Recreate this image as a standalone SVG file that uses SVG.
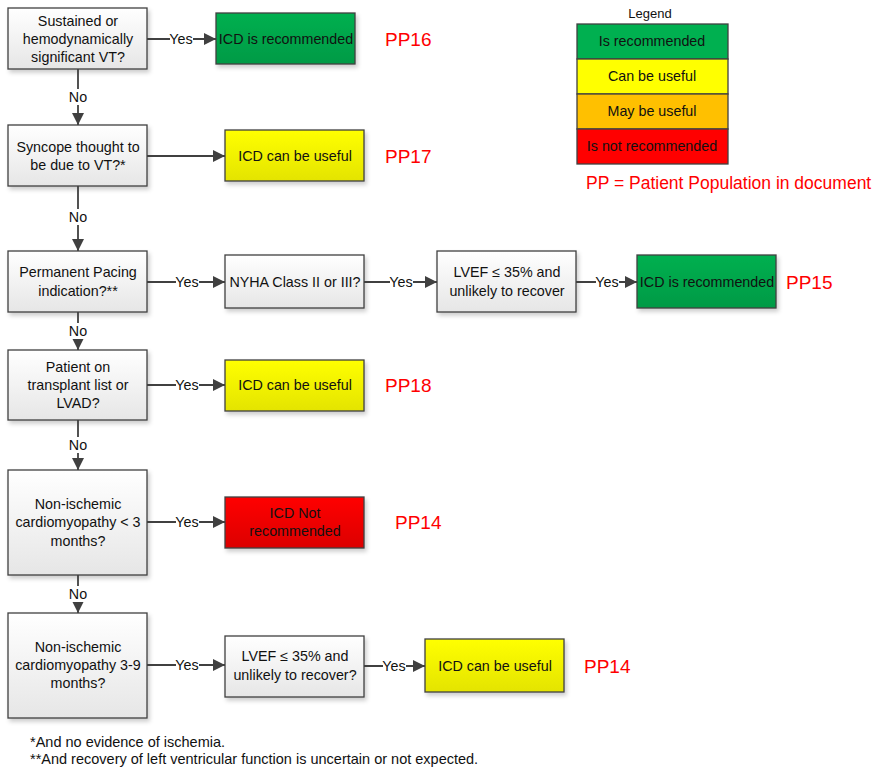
<svg xmlns="http://www.w3.org/2000/svg" width="873" height="768" viewBox="0 0 873 768">
<defs>
<linearGradient id="gGray" x1="0" y1="0" x2="0" y2="1"><stop offset="0" stop-color="#FFFFFF"/><stop offset="1" stop-color="#E6E6E6"/></linearGradient>
<linearGradient id="gGreen" x1="0" y1="0" x2="0" y2="1"><stop offset="0" stop-color="#00B050"/><stop offset="1" stop-color="#009A45"/></linearGradient>
<linearGradient id="gYellow" x1="0" y1="0" x2="0" y2="1"><stop offset="0" stop-color="#FFFF00"/><stop offset="1" stop-color="#E4E400"/></linearGradient>
<linearGradient id="gRed" x1="0" y1="0" x2="0" y2="1"><stop offset="0" stop-color="#FF0000"/><stop offset="1" stop-color="#DC0000"/></linearGradient>
<filter id="sh" x="-10%" y="-10%" width="130%" height="140%"><feDropShadow dx="2" dy="3" stdDeviation="2" flood-color="#000" flood-opacity="0.2"/></filter>
<marker id="arr" viewBox="0 0 10 10" refX="10" refY="5" markerWidth="12" markerHeight="12" markerUnits="userSpaceOnUse" orient="auto"><path d="M0,0 L10,5 L0,10 Z" fill="#404040"/></marker>
</defs>
<style>
.box{stroke:#404040;stroke-width:1.3;filter:url(#sh)}
.q{fill:url(#gGray)}
.gr{fill:url(#gGreen)}
.ye{fill:url(#gYellow)}
.rd{fill:url(#gRed)}
text{font-family:"Liberation Sans",Arial,sans-serif;font-size:14.3px;fill:#111;text-anchor:middle}
.pp{font-size:19px;fill:#FF0000;text-anchor:start}
.note{text-anchor:start;font-size:14.5px}
.c line{stroke:#404040;stroke-width:1.8;fill:none}
.c .a{marker-end:url(#arr)}
.lbl{fill:#FFFFFF}
</style>

<g id="n1"><rect class="box q" x="8" y="8" width="139" height="61"/><text x="78" y="26">Sustained or</text><text x="78" y="44">hemodynamically</text><text x="78" y="62">significant VT?</text></g>
<g id="r1"><rect class="box gr" x="216" y="13" width="139" height="51"/><text x="286" y="44">ICD is recommended</text></g>
<text class="pp" x="385" y="46">PP16</text>

<g id="n2"><rect class="box q" x="8" y="125" width="139" height="61"/><text x="78" y="152">Syncope thought to</text><text x="78" y="170">be due to VT?*</text></g>
<g id="r2"><rect class="box ye" x="225" y="130" width="139" height="51"/><text x="295" y="161">ICD can be useful</text></g>
<text class="pp" x="385" y="163">PP17</text>

<g id="n3"><rect class="box q" x="8" y="251" width="139" height="61"/><text x="78" y="277">Permanent Pacing</text><text x="78" y="296">indication?**</text></g>
<g id="n3b"><rect class="box q" x="225" y="255" width="139" height="53"/><text x="295" y="287">NYHA Class II or III?</text></g>
<g id="n3c"><rect class="box q" x="437" y="251" width="139" height="61"/><text x="507" y="277">LVEF ≤ 35% and</text><text x="507" y="296">unlikely to recover</text></g>
<g id="r3"><rect class="box gr" x="637" y="255" width="139" height="53"/><text x="707" y="287">ICD is recommended</text></g>
<text class="pp" x="786" y="289">PP15</text>

<g id="n4"><rect class="box q" x="8" y="350" width="139" height="70"/><text x="78" y="372">Patient on</text><text x="78" y="390">transplant list or</text><text x="78" y="408">LVAD?</text></g>
<g id="r4"><rect class="box ye" x="225" y="360" width="139" height="51"/><text x="295" y="390">ICD can be useful</text></g>
<text class="pp" x="385" y="392">PP18</text>

<g id="n5"><rect class="box q" x="8" y="470" width="139" height="105"/><text x="78" y="509">Non-ischemic</text><text x="78" y="527">cardiomyopathy &lt; 3</text><text x="78" y="546">months?</text></g>
<g id="r5"><rect class="box rd" x="225" y="497" width="139" height="51"/><text x="295" y="518">ICD Not</text><text x="295" y="536">recommended</text></g>
<text class="pp" x="395" y="529">PP14</text>

<g id="n6"><rect class="box q" x="8" y="613" width="139" height="105"/><text x="78" y="652">Non-ischemic</text><text x="78" y="670">cardiomyopathy 3-9</text><text x="78" y="688">months?</text></g>
<g id="n6b"><rect class="box q" x="225" y="636" width="139" height="61"/><text x="295" y="661">LVEF ≤ 35% and</text><text x="295" y="680">unlikely to recover?</text></g>
<g id="r6"><rect class="box ye" x="425" y="639" width="139" height="53"/><text x="495" y="671">ICD can be useful</text></g>
<text class="pp" x="584" y="673">PP14</text>

<g id="legend">
<text x="650" y="18" style="font-size:13px">Legend</text>
<rect x="577" y="24" width="151" height="35" fill="#00B050" stroke="#404040" stroke-width="1.3"/><text x="652" y="46">Is recommended</text>
<rect x="577" y="59" width="151" height="35" fill="#FFFF00" stroke="#404040" stroke-width="1.3"/><text x="652" y="81">Can be useful</text>
<rect x="577" y="94" width="151" height="35" fill="#FFC000" stroke="#404040" stroke-width="1.3"/><text x="652" y="116">May be useful</text>
<rect x="577" y="129" width="151" height="35" fill="#FF0000" stroke="#404040" stroke-width="1.3"/><text x="652" y="151">Is not recommended</text>
<text x="586" y="189" style="font-size:17.5px;fill:#FF0000;text-anchor:start">PP = Patient Population in document</text>
</g>

<g id="connectors" class="c">
<line class="a" x1="147" y1="39" x2="216" y2="39"/>
<line class="a" x1="147" y1="156" x2="225" y2="156"/>
<line class="a" x1="78" y1="69" x2="78" y2="125"/>
<line class="a" x1="78" y1="186" x2="78" y2="251"/>
<line class="a" x1="147" y1="282" x2="225" y2="282"/>
<line class="a" x1="364" y1="282" x2="437" y2="282"/>
<line class="a" x1="576" y1="282" x2="637" y2="282"/>
<line class="a" x1="78" y1="312" x2="78" y2="350"/>
<line class="a" x1="147" y1="385" x2="225" y2="385"/>
<line class="a" x1="78" y1="420" x2="78" y2="470"/>
<line class="a" x1="147" y1="522" x2="225" y2="522"/>
<line class="a" x1="78" y1="575" x2="78" y2="613"/>
<line class="a" x1="147" y1="665" x2="225" y2="665"/>
<line class="a" x1="364" y1="666" x2="425" y2="666"/>
<rect class="lbl" x="170" y="31" width="23" height="16"/><text x="181" y="44">Yes</text>
<rect class="lbl" x="68" y="89" width="20" height="16"/><text x="78" y="102">No</text>
<rect class="lbl" x="68" y="209" width="20" height="16"/><text x="78" y="222">No</text>
<rect class="lbl" x="176" y="274" width="23" height="16"/><text x="187" y="287">Yes</text>
<rect class="lbl" x="390" y="274" width="23" height="16"/><text x="401" y="287">Yes</text>
<rect class="lbl" x="596" y="274" width="23" height="16"/><text x="607" y="287">Yes</text>
<rect class="lbl" x="68" y="323" width="20" height="16"/><text x="78" y="336">No</text>
<rect class="lbl" x="176" y="377" width="23" height="16"/><text x="187" y="390">Yes</text>
<rect class="lbl" x="68" y="437" width="20" height="16"/><text x="78" y="450">No</text>
<rect class="lbl" x="176" y="514" width="23" height="16"/><text x="187" y="527">Yes</text>
<rect class="lbl" x="68" y="586" width="20" height="16"/><text x="78" y="599">No</text>
<rect class="lbl" x="176" y="657" width="23" height="16"/><text x="187" y="670">Yes</text>
<rect class="lbl" x="383" y="658" width="23" height="16"/><text x="394" y="671">Yes</text>
</g>

<text class="note" x="30" y="747">*And no evidence of ischemia.</text>
<text class="note" x="30" y="764">**And recovery of left ventricular function is uncertain or not expected.</text>
</svg>
